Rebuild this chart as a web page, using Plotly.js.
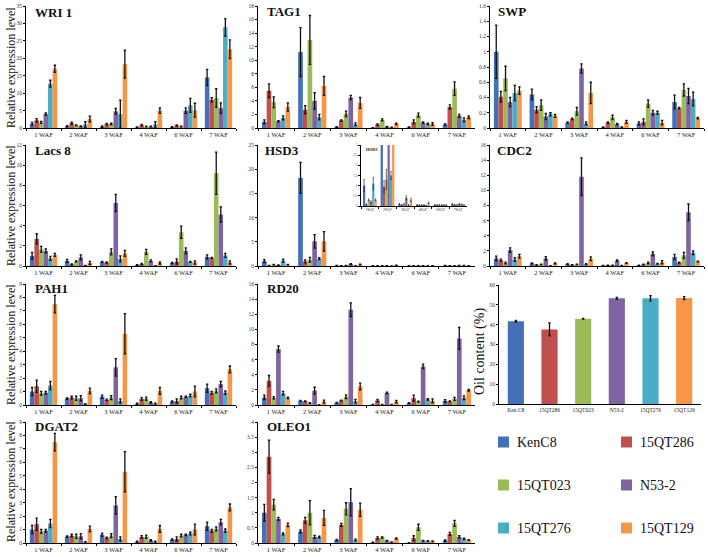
<!DOCTYPE html>
<html><head><meta charset="utf-8">
<script src="https://cdn.plot.ly/plotly-3.0.1.min.js"></script>
<style>html,body{margin:0;padding:0;background:#fff}#chart{width:708px;height:557px}</style>
</head><body><div id="chart"></div>
<script>
const weeks = ['1 WAF','2 WAF','3 WAF','4 WAF','6 WAF','7 WAF'];
const insetWeeks = ['1WAF','2WAF','3WAF','4WAF','6WAF','7WAF'];
const lines = ['KenC8','15QT286','15QT023','N53-2','15QT276','15QT129'];
const oilLabels = ['Ken C8','15QT286','15QT023','N53-2','15QT276','15QT129'];
const colors = ['#4470b8','#c0504d','#9bbb59','#8064a2','#4bacc6','#f79646'];

// rows = lines (KenC8, 15QT286, 15QT023, N53-2, 15QT276, 15QT129), columns = weeks
const WRI1 = [[1.2,0.5,0.4,0.2,0.3,14.5],[2.2,1.4,1.1,0.8,0.7,8.1],[1.6,0.8,1.2,0.4,0.4,8.6],[4.0,0.5,4.8,0.4,5.0,5.7],[12.7,1.0,4.0,1.0,6.5,28.9],[17.0,2.6,18.3,5.0,5.1,22.6]];
const WRI1_ERR = [[0.4,0.2,0.2,0.1,0.1,2.3],[0.5,0.3,0.2,0.2,0.2,0.6],[0.3,0.1,0.2,0.1,0.1,2.7],[0.3,0.1,0.8,0.1,0.8,1.5],[1.0,0.8,4.0,0.8,2.0,2.5],[1.0,0.8,4.0,0.8,2.0,2.7]];
const TAG1 = [[0.9,11.2,0.15,0.05,0.1,0.5],[5.5,2.7,1.1,0.5,0.9,3.1],[3.8,13.0,2.1,1.2,1.9,5.8],[1.0,4.0,4.5,0.2,0.8,1.8],[1.5,1.6,0.55,0.1,0.6,1.2],[3.1,6.2,3.7,0.6,0.6,1.6]];
const TAG1_ERR = [[0.3,3.6,0.05,0.02,0.05,0.1],[1.0,0.6,0.1,0.1,0.3,0.3],[0.8,3.6,0.4,0.15,0.3,1.0],[0.1,1.2,0.3,0.05,0.1,0.2],[0.3,0.4,0.2,0.03,0.1,0.3],[0.6,1.4,0.8,0.1,0.2,0.2]];
const SWP = [[1.0,0.44,0.07,0.01,0.06,0.34],[0.41,0.24,0.12,0.07,0.08,0.26],[0.65,0.30,0.22,0.14,0.32,0.50],[0.34,0.15,0.78,0.05,0.20,0.42],[0.46,0.18,0.06,0.01,0.20,0.38],[0.49,0.16,0.46,0.08,0.07,0.13]];
const SWP_ERR = [[0.35,0.07,0.01,0.005,0.02,0.09],[0.07,0.04,0.01,0.01,0.04,0.01],[0.16,0.07,0.05,0.03,0.05,0.08],[0.06,0.04,0.06,0.01,0.03,0.1],[0.1,0.02,0.02,0.005,0.02,0.09],[0.05,0.02,0.14,0.02,0.03,0.01]];
const LACS8 = [[1.0,0.5,0.4,0.1,0.3,0.9],[2.7,0.15,0.35,0.2,0.45,0.8],[1.65,0.45,1.4,1.4,3.35,9.2],[1.5,0.85,6.25,0.5,1.5,5.1],[0.75,0.05,0.7,0.03,0.4,1.05],[1.1,0.3,1.25,0.3,0.35,0.35]];
const LACS8_ERR = [[0.35,0.15,0.05,0.03,0.05,0.2],[0.5,0.05,0.05,0.05,0.25,0.05],[0.3,0.05,0.3,0.25,0.6,2.1],[0.2,0.25,0.85,0.1,0.3,0.75],[0.2,0.02,0.3,0.01,0.05,0.2],[0.15,0.15,0.3,0.1,0.15,0.15]];
const HSD3 = [[1.0,18.2,0.1,0.05,0.05,0.1],[0.08,0.95,0.05,0.05,0.05,0.05],[0.3,1.3,0.1,0.05,0.05,0.05],[0.2,5.1,0.4,0.05,0.05,0.1],[1.1,1.5,0.05,0.02,0.05,0.08],[0.3,5.1,0.3,0.15,0.05,0.05]];
const HSD3_ERR = [[0.3,3.2,0.03,0.02,0.02,0.03],[0.02,0.3,0.02,0.02,0.02,0.02],[0.05,0.5,0.03,0.02,0.02,0.02],[0.05,1.4,0.1,0.02,0.02,0.03],[0.3,0.2,0.02,0.01,0.02,0.02],[0.05,2.0,0.08,0.04,0.02,0.02]];
const CDC2 = [[1.0,0.35,0.25,0.05,0.1,1.2],[0.75,0.15,0.15,0.1,0.2,0.45],[0.4,0.2,0.2,0.1,0.4,1.4],[2.1,1.0,11.8,0.7,1.6,7.1],[0.85,0.02,0.25,0.05,0.3,1.75],[1.3,0.35,0.95,0.4,0.5,0.6]];
const CDC2_ERR = [[0.3,0.05,0.05,0.02,0.02,0.35],[0.15,0.03,0.03,0.02,0.05,0.05],[0.1,0.03,0.03,0.02,0.1,0.4],[0.3,0.25,2.5,0.1,0.25,1.1],[0.25,0.01,0.05,0.02,0.05,0.25],[0.25,0.05,0.25,0.05,0.2,0.05]];
const PAH1 = [[1.0,0.47,0.62,0.1,0.25,1.25],[1.4,0.55,0.38,0.45,0.3,0.92],[0.87,0.5,0.55,0.47,0.55,1.05],[0.92,0.5,2.8,0.2,0.6,1.55],[1.45,0.08,0.3,0.1,0.7,0.92],[7.5,1.05,5.3,1.05,1.0,2.65]];
const PAH1_ERR = [[0.3,0.05,0.12,0.03,0.05,0.3],[0.45,0.1,0.05,0.1,0.15,0.1],[0.15,0.15,0.15,0.12,0.1,0.15],[0.1,0.2,0.65,0.05,0.05,0.2],[0.3,0.02,0.15,0.03,0.1,0.12],[0.65,0.2,1.5,0.25,0.4,0.25]];
const RD20 = [[1.0,0.55,0.3,0.05,0.25,0.55],[3.2,0.5,0.6,0.6,0.9,0.5],[0.95,0.25,1.1,0.05,0.45,0.8],[7.4,1.9,12.6,1.6,5.1,8.8],[1.55,0.02,0.5,0.05,0.75,0.95],[0.95,0.45,2.45,0.45,0.55,1.95]];
const RD20_ERR = [[0.3,0.05,0.05,0.02,0.05,0.15],[0.7,0.05,0.05,0.15,0.4,0.05],[0.15,0.05,0.25,0.02,0.05,0.2],[0.4,0.45,0.9,0.1,0.3,1.45],[0.25,0.01,0.25,0.02,0.1,0.25],[0.1,0.2,0.45,0.15,0.25,0.1]];
const DGAT2 = [[1.0,0.47,0.62,0.1,0.25,1.25],[1.4,0.55,0.38,0.45,0.3,0.92],[0.87,0.5,0.55,0.47,0.55,1.05],[0.92,0.5,2.8,0.2,0.6,1.55],[1.45,0.08,0.3,0.1,0.7,0.92],[7.5,1.05,5.3,1.05,1.0,2.65]];
const DGAT2_ERR = [[0.3,0.05,0.12,0.03,0.05,0.3],[0.45,0.1,0.05,0.1,0.15,0.1],[0.15,0.15,0.15,0.12,0.1,0.15],[0.1,0.2,0.65,0.05,0.05,0.2],[0.3,0.02,0.15,0.03,0.1,0.12],[0.65,0.2,1.5,0.25,0.4,0.25]];
const OLEO1 = [[1.0,0.38,0.1,0.02,0.01,0.08],[2.85,0.75,0.6,0.16,0.16,0.3],[1.27,1.0,1.13,0.18,0.52,0.65],[0.8,0.2,1.35,0.08,0.08,0.2],[0.3,0.2,0.1,0.03,0.07,0.14],[0.6,0.83,1.1,0.15,0.06,0.1]];
const OLEO1_ERR = [[0.28,0.05,0.02,0.01,0.005,0.02],[0.55,0.1,0.05,0.04,0.08,0.05],[0.17,0.4,0.2,0.02,0.1,0.1],[0.05,0.05,0.45,0.01,0.01,0.04],[0.03,0.03,0.03,0.01,0.01,0.02],[0.06,0.25,0.22,0.02,0.01,0.01]];
const OIL = [41.7,37.6,43.0,53.3,53.3,53.4];
const OIL_ERR = [0.4,3.3,0.2,0.5,1.3,0.7];

const W = 708, H = 557;
const FAM = 'Liberation Serif';
const px = x => x / W, py = y => 1 - y / H;
const data = [];
const layout = {width: W, height: H, margin: {l:0,r:0,t:0,b:0}, paper_bgcolor:'#fff', plot_bgcolor:'#fff',
  barmode:'group', bargap:0.22, bargroupgap:0, showlegend:false, font:{family:FAM, color:'#000'},
  annotations: [], shapes: []};
let n = 0;
function axisIds() { n++; const s = n === 1 ? '' : String(n); return {xa:'x'+s, ya:'y'+s, xk:'xaxis'+s, yk:'yaxis'+s}; }
function axes(id, c, cats) {
  layout[id.xk] = {domain:[px(c.x0), px(c.x1)], anchor:id.ya, type:'category', categoryarray:cats,
    showline:true, linecolor:'#000', linewidth:1, ticks:'outside', tickson:'boundaries', ticklen:2,
    tickcolor:'#000', tickfont:{size:c.xfs||6.5, family:FAM, color:'#222'}, showgrid:false, zeroline:false, fixedrange:true};
  layout[id.yk] = {domain:[py(c.y1), py(c.y0)], anchor:id.xa, range:c.range, dtick:c.dtick, tick0:0,
    showline:true, linecolor:'#000', linewidth:1, ticks:'outside', ticklen:2, tickcolor:'#000',
    tickfont:{size:c.yfs||5.5, family:FAM, color:'#333'}, showgrid:false, zeroline:false, fixedrange:true};
}
function addPanel(vals, errs, c) {
  const id = axisIds();
  vals.forEach((row, i) => data.push({type:'bar', x:c.cats||weeks, y:row, name:lines[i],
    marker:{color:colors[i], line:{width:0}}, xaxis:id.xa, yaxis:id.ya, cliponaxis:true,
    error_y:{type:'data', array:errs[i], visible:true, color:'#111', thickness:c.et||1.3, width:c.ew||1.2}}));
  axes(id, c, c.cats||weeks);
  if (c.title) layout.annotations.push({xref:'paper', yref:'paper', x:px(c.tx), y:py(c.ty), xanchor:'left', yanchor:'middle',
    text:'<b>'+c.title+'</b>', showarrow:false, font:{size:c.tfs||13, family:FAM, color:'#111'}});
}
const C1 = [26,236], C2 = [258,475], C3 = [490,704];
const R1 = [6,128], R2 = [145,266], R3 = [284,405], R4 = [422,543];
addPanel(WRI1, WRI1_ERR, {x0:C1[0],x1:C1[1],y0:R1[0],y1:R1[1],range:[0,35],dtick:5,title:'WRI 1',tx:33,ty:12});
addPanel(TAG1, TAG1_ERR, {x0:C2[0],x1:C2[1],y0:R1[0],y1:R1[1],range:[0,18],dtick:2,title:'TAG1',tx:265,ty:11});
addPanel(SWP, SWP_ERR, {x0:C3[0],x1:C3[1],y0:R1[0],y1:R1[1],range:[0,1.6],dtick:0.2,title:'SWP',tx:496,ty:11});
addPanel(LACS8, LACS8_ERR, {x0:C1[0],x1:C1[1],y0:R2[0],y1:R2[1],range:[0,12],dtick:2,title:'Lacs 8',tx:33,ty:150});
addPanel(HSD3, HSD3_ERR, {x0:C2[0],x1:C2[1],y0:R2[0],y1:R2[1],range:[0,25],dtick:5,title:'HSD3',tx:263,ty:150});
addPanel(CDC2, CDC2_ERR, {x0:C3[0],x1:C3[1],y0:R2[0],y1:R2[1],range:[0,16],dtick:2,title:'CDC2',tx:495,ty:150});
addPanel(PAH1, PAH1_ERR, {x0:C1[0],x1:C1[1],y0:R3[0],y1:R3[1],range:[0,9],dtick:1,title:'PAH1',tx:33,ty:289});
addPanel(RD20, RD20_ERR, {x0:C2[0],x1:C2[1],y0:R3[0],y1:R3[1],range:[0,16],dtick:2,title:'RD20',tx:265,ty:289});
addPanel(DGAT2, DGAT2_ERR, {x0:C1[0],x1:C1[1],y0:R4[0],y1:R4[1],range:[0,9],dtick:1,title:'DGAT2',tx:33,ty:426});
addPanel(OLEO1, OLEO1_ERR, {x0:C2[0],x1:C2[1],y0:R4[0],y1:R4[1],range:[0,4],dtick:0.5,title:'OLEO1',tx:265,ty:426});
// HSD3 inset
addPanel(HSD3, HSD3_ERR, {x0:361,x1:467,y0:145,y1:206,range:[0,3],dtick:0.5,title:'HSD3',tx:364,ty:149,tfs:4.5,
  cats:insetWeeks, xfs:3.2, yfs:3.2, et:0.6, ew:0.6});
// Oil content panel
(function(){
  const id = axisIds();
  data.push({type:'bar', x:oilLabels, y:OIL, width:0.48, marker:{color:colors, line:{width:0}}, xaxis:id.xa, yaxis:id.ya,
    error_y:{type:'data', array:OIL_ERR, visible:true, color:'#111', thickness:1.3, width:1.2}});
  axes(id, {x0:499,x1:701,y0:285,y1:404,range:[0,60],dtick:10,xfs:5.5}, oilLabels);
  layout[id.xk].ticks = '';
})();
// y titles
[68,206,345,482].forEach(y => layout.annotations.push({xref:'paper', yref:'paper', x:px(11), y:py(y), textangle:-90,
  text:'Relative expression level', showarrow:false, xanchor:'center', yanchor:'middle', font:{size:12, family:FAM, color:'#111'}}));
layout.annotations.push({xref:'paper', yref:'paper', x:px(480), y:py(352), textangle:-90, text:'Oil content (%)',
  showarrow:false, xanchor:'center', yanchor:'middle', font:{size:14, family:FAM, color:'#111'}});
// legend
const legPos = [[498,442],[621,442],[498,485],[621,485],[498,528],[621,528]];
lines.forEach((name, i) => {
  const [lx, ly] = legPos[i];
  layout.shapes.push({type:'rect', xref:'paper', yref:'paper', x0:px(lx), x1:px(lx+11), y0:py(ly+5.5), y1:py(ly-5.5),
    fillcolor:colors[i], line:{width:0}});
  layout.annotations.push({xref:'paper', yref:'paper', x:px(lx+17), y:py(ly), xanchor:'left', yanchor:'middle',
    text:name, showarrow:false, font:{size:14, family:FAM, color:'#111'}});
});
Plotly.newPlot('chart', data, layout, {staticPlot:true, displayModeBar:false});
</script></body></html>
